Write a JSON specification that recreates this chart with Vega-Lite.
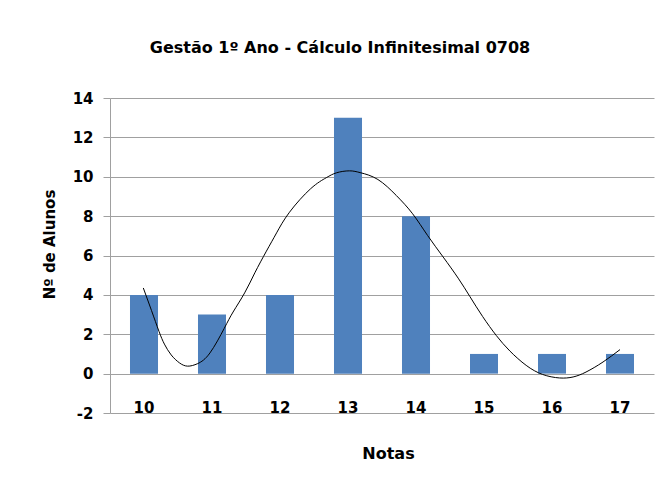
{
  "$schema": "https://vega.github.io/schema/vega-lite/v6.json",
  "width": 544,
  "height": 315,
  "autosize": "none",
  "padding": {"left": 110, "top": 98, "right": 15, "bottom": 70},
  "background": "white",
  "config": {
    "view": {"stroke": null},
    "font": "DejaVu Sans"
  },
  "title": {
    "text": "Gestão 1º Ano - Cálculo Infinitesimal 0708",
    "font": "DejaVu Sans",
    "fontSize": 16,
    "fontWeight": "bold",
    "color": "black",
    "anchor": "middle",
    "dx": -42,
    "offset": 22,
    "baseline": "alphabetic"
  },
  "data": {
    "values": [
      {"nota": "10", "alunos": 4},
      {"nota": "11", "alunos": 3},
      {"nota": "12", "alunos": 4},
      {"nota": "13", "alunos": 13},
      {"nota": "14", "alunos": 8},
      {"nota": "15", "alunos": 1},
      {"nota": "16", "alunos": 1},
      {"nota": "17", "alunos": 1}
    ]
  },
  "layer": [
    {
      "mark": {"type": "bar", "color": "#4F81BD"},
      "encoding": {
        "x": {
          "field": "nota",
          "type": "ordinal",
          "sort": null,
          "scale": {"paddingInner": 0.588, "paddingOuter": 0.294},
          "axis": {
            "title": "Notas",
            "domain": false,
            "ticks": false,
            "labelAngle": 0,
            "labelPadding": -1,
            "labelBaseline": "alphabetic",
            "labelFont": "DejaVu Sans",
            "labelFontSize": 15,
            "labelFontWeight": "bold",
            "labelColor": "black",
            "titleFont": "DejaVu Sans",
            "titleFontSize": 16,
            "titleFontWeight": "bold",
            "titleColor": "black",
            "titleX": 278,
            "titleY": 45,
            "titleBaseline": "alphabetic"
          }
        },
        "y": {
          "field": "alunos",
          "type": "quantitative",
          "scale": {"domain": [-2, 14], "nice": false},
          "axis": {
            "title": "Nº de Alunos",
            "values": [-2, 0, 2, 4, 6, 8, 10, 12, 14],
            "tickCount": 9,
            "labelOverlap": false,
            "labelExpr": "'' + datum.value",
            "grid": true,
            "gridColor": "#a0a0a0",
            "gridOpacity": 1,
            "domainColor": "#a0a0a0",
            "tickColor": "#a0a0a0",
            "tickSize": 7,
            "labelPadding": 10,
            "labelFont": "DejaVu Sans",
            "labelFontSize": 15,
            "labelFontWeight": "bold",
            "labelColor": "black",
            "titleFont": "DejaVu Sans",
            "titleFontSize": 15,
            "titleFontWeight": "bold",
            "titleColor": "black",
            "titleX": -61,
            "titleY": 146,
            "titleAngle": -90,
            "titleAlign": "center",
            "titleBaseline": "middle"
          }
        }
      }
    },
    {
      "data": {
        "values": [
          {"x": 9.99, "y": 4.35},
          {"x": 10.11, "y": 3.21},
          {"x": 10.22, "y": 2.15},
          {"x": 10.30, "y": 1.5},
          {"x": 10.40, "y": 0.95},
          {"x": 10.52, "y": 0.55},
          {"x": 10.64, "y": 0.38},
          {"x": 10.79, "y": 0.51},
          {"x": 10.97, "y": 1.05},
          {"x": 11.18, "y": 2.3},
          {"x": 11.31, "y": 3.13},
          {"x": 11.48, "y": 4.1},
          {"x": 11.63, "y": 5.12},
          {"x": 11.80, "y": 6.22},
          {"x": 11.95, "y": 7.15},
          {"x": 12.14, "y": 8.2},
          {"x": 12.45, "y": 9.39},
          {"x": 12.68, "y": 9.95},
          {"x": 12.83, "y": 10.2},
          {"x": 13.02, "y": 10.3},
          {"x": 13.19, "y": 10.2},
          {"x": 13.44, "y": 9.86},
          {"x": 13.71, "y": 9.05},
          {"x": 13.95, "y": 8.12},
          {"x": 14.17, "y": 7.02},
          {"x": 14.40, "y": 5.92},
          {"x": 14.62, "y": 4.85},
          {"x": 14.79, "y": 3.93},
          {"x": 14.98, "y": 2.9},
          {"x": 15.18, "y": 1.94},
          {"x": 15.38, "y": 1.15},
          {"x": 15.62, "y": 0.42},
          {"x": 15.86, "y": -0.04},
          {"x": 16.11, "y": -0.22},
          {"x": 16.31, "y": -0.17},
          {"x": 16.50, "y": 0.08},
          {"x": 16.75, "y": 0.59},
          {"x": 17.0, "y": 1.22}
        ]
      },
      "mark": {"type": "line", "color": "black", "strokeWidth": 1, "interpolate": "natural"},
      "encoding": {
        "x": {"field": "x", "type": "quantitative", "scale": {"domain": [9.5, 17.5], "nice": false, "zero": false}, "axis": null},
        "y": {"field": "y", "type": "quantitative"}
      }
    }
  ],
  "resolve": {"scale": {"x": "independent"}}
}
